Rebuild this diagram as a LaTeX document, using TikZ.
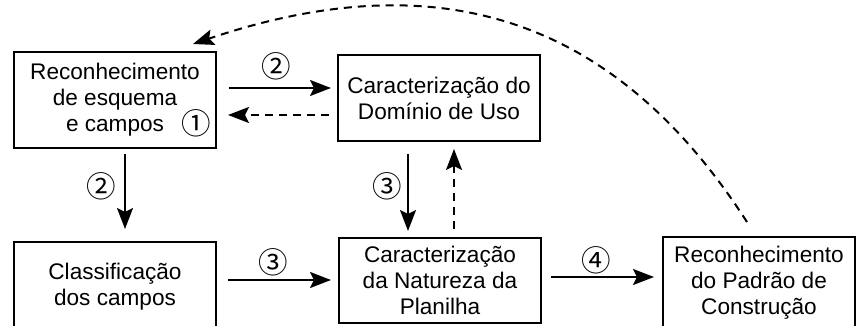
\documentclass[tikz,border=0pt]{standalone}
\usepackage{fontspec}
\setmainfont{Liberation Sans}
\newfontfamily\circfont{Noto Sans CJK JP}
\usetikzlibrary{arrows.meta,calc}
\begin{document}
\begin{tikzpicture}[x=1pt,y=-1pt,
  box/.style={draw,line width=2pt,inner sep=0pt,align=center,minimum width=202pt,
    font=\fontsize{22.6}{26}\selectfont},
  arr/.style={line width=2pt,-{Stealth[length=21pt,width=16pt,inset=4pt]}},
  darr/.style={arr,dash pattern=on 8pt off 6pt},
  num/.style={inner sep=0pt,font=\circfont\fontsize{29.5}{29.5}\selectfont}]
\clip (0,0) rectangle (857,326);
\node[box,minimum height=96pt] (A) at (115,100) {Reconhecimento\\de esquema\\e campos};
\node[box,minimum height=86pt] (B) at (439,98) {Caracterização do\\Domínio de Uso};
\node[box,minimum height=89pt] (C) at (115,286.5) {Classificação\\dos campos};
\node[box,minimum height=85pt] (D) at (440,280.5) {Caracterização\\da Natureza da\\Planilha};
\node[box,minimum height=92pt,minimum width=192pt] (E) at (759,283) {Reconhecimento\\do Padrão de\\Construção};
\node[num] (n1) at (196,123) {①};
\node[num] (n2a) at (276,66) {②};
\node[num] (n2b) at (101,186) {②};
\node[num] (n3a) at (387,186) {③};
\node[num] (n3b) at (273,262) {③};
\node[num] (n4) at (596,260) {④};
\draw[arr] ($(A.east)+(12,-12)$) -- ($(B.west)+(-6,-10)$);
\draw[darr] ($(B.west)+(-8,17)$) -- ($(A.east)+(11,15)$);
\draw[arr] ($(A.south)+(10,5)$) -- ($(C.north)+(10,-12)$);
\draw[arr] ($(B.south)+(-31,12)$) -- ($(D.north)+(-32,-6)$);
\draw[darr] ($(D.north)+(14,-8)$) -- ($(B.south)+(15,7)$);
\draw[arr] ($(C.east)+(11,-6.5)$) -- ($(D.west)+(-7,-0.5)$);
\draw[arr] ($(D.east)+(9,-3.5)$) -- ($(E.west)+(-8,-6)$);
\coordinate (Estart) at ($(E.north)+(-12,-14)$);
\coordinate (Aend) at ($(A.north east)+(-24,-7)$);
\draw[darr] (Estart) .. controls (617,20) and (442,-40) .. (Aend);
\end{tikzpicture}
\end{document}
